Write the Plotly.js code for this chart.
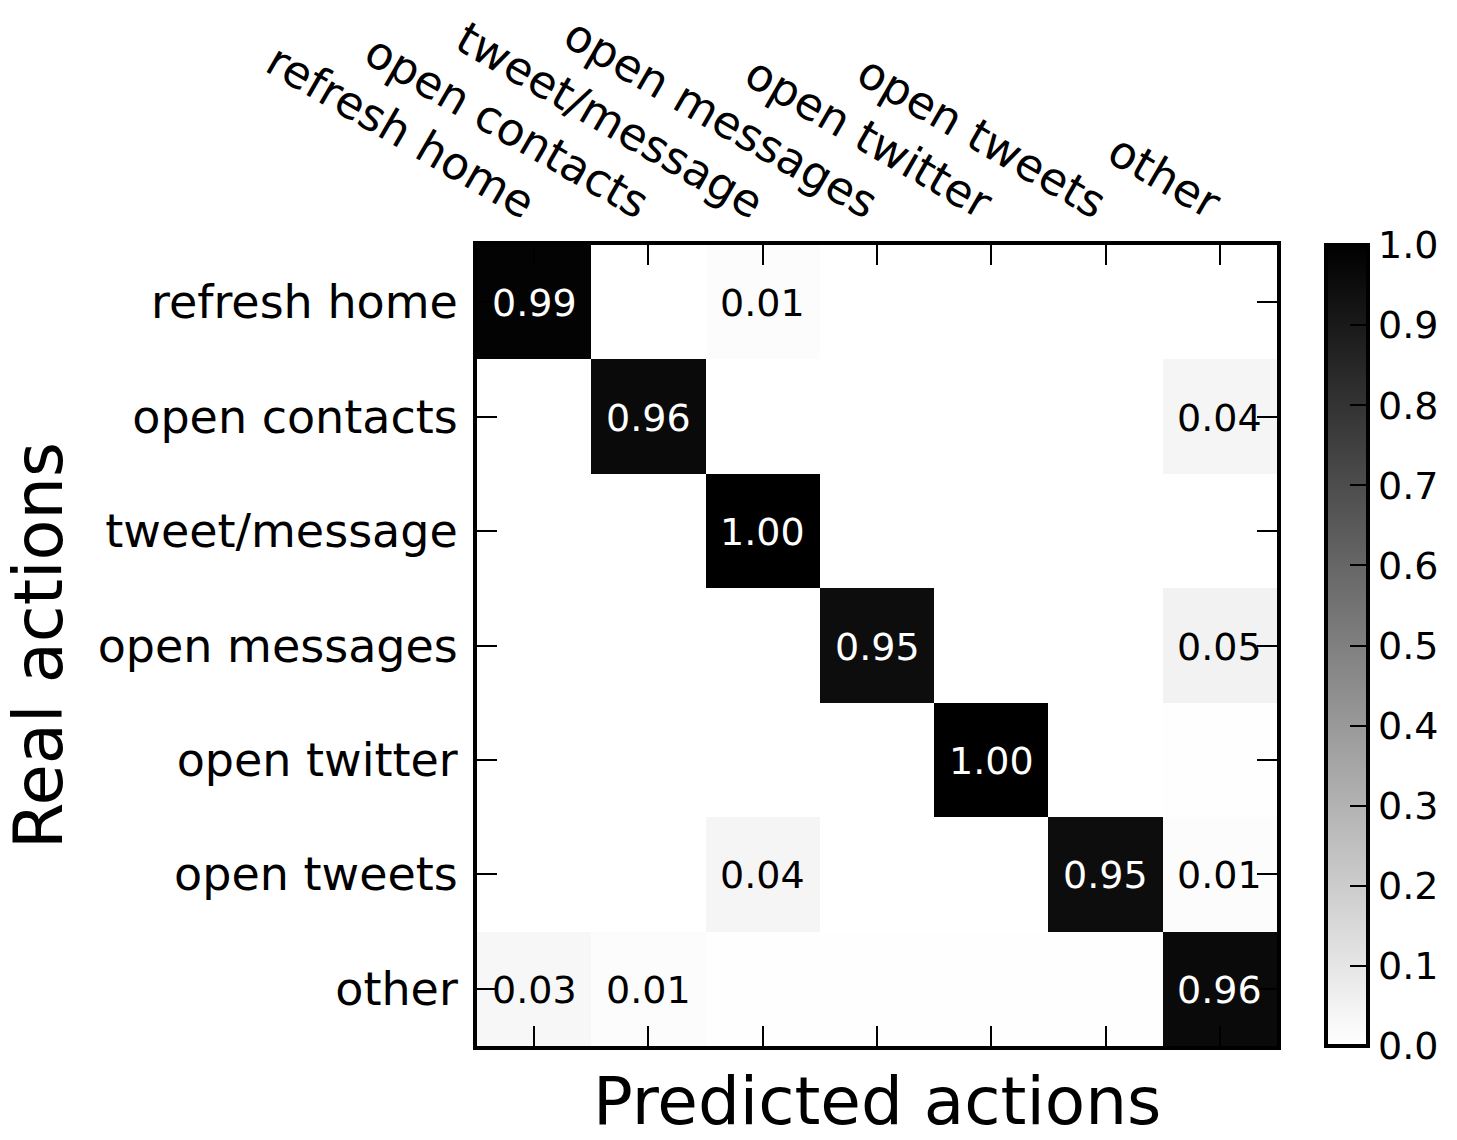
<!DOCTYPE html>
<html>
<head>
<meta charset="utf-8">
<script src="https://cdn.plot.ly/plotly-3.0.1.min.js"></script>
<style>html,body{margin:0;padding:0;background:#fff;}#chart{width:1457px;height:1140px;}</style>
</head>
<body>
<div id="chart"></div>
<script>
const predictedLabels = ["refresh home", "open contacts", "tweet/message", "open messages", "open twitter", "open tweets", "other"];
const realLabels = ["refresh home", "open contacts", "tweet/message", "open messages", "open twitter", "open tweets", "other"];
const rowRefreshHome = [0.99, 0, 0.01, 0, 0, 0, 0];
const rowOpenContacts = [0, 0.96, 0, 0, 0, 0, 0.04];
const rowTweetMessage = [0, 0, 1.00, 0, 0, 0, 0];
const rowOpenMessages = [0, 0, 0, 0.95, 0, 0, 0.05];
const rowOpenTwitter = [0, 0, 0, 0, 1.00, 0, 0.002];
const rowOpenTweets = [0, 0, 0.04, 0, 0, 0.95, 0.01];
const rowOther = [0.03, 0.01, 0.004, 0.004, 0.004, 0.004, 0.96];
const colorbarTicks = [0, 0.1, 0.2, 0.3, 0.4, 0.5, 0.6, 0.7, 0.8, 0.9, 1.0];

const z = [rowRefreshHome, rowOpenContacts, rowTweetMessage, rowOpenMessages, rowOpenTwitter, rowOpenTweets, rowOther];
const FONT = "DejaVu Sans";

// cell labels (only for values that round to at least 0.01)
const cellAnnotations = [];
z.forEach((row, i) => row.forEach((v, j) => {
  if (Math.round(v * 100) >= 1) {
    cellAnnotations.push({
      x: predictedLabels[j], y: realLabels[i], xref: "x", yref: "y",
      text: v.toFixed(2), showarrow: false, yshift: -1,
      font: {family: FONT, size: 38, color: v > 0.5 ? "#ffffff" : "#000000"}
    });
  }
}));

const heat = {
  type: "heatmap",
  x: predictedLabels,
  y: realLabels,
  z: z,
  zmin: 0, zmax: 1,
  colorscale: [[0, "#ffffff"], [1, "#000000"]],
  hoverinfo: "skip",
  colorbar: {
    x: 1.0612, xanchor: "left", xpad: 0,
    y: 0.5, yanchor: "middle", len: 1, ypad: 0,
    thickness: 42,
    outlinewidth: 4, outlinecolor: "#000",
    ticks: "inside", ticklen: 20, tickwidth: 2, tickcolor: "#000",
    tickvals: colorbarTicks, tickformat: ".1f", tickprefix: "\u2009",
    tickfont: {family: FONT, size: 38, color: "#000"}
  }
};

const layout = {
  width: 1457, height: 1140,
  margin: {l: 477, r: 180, t: 245, b: 94, pad: 0, autoexpand: false},
  paper_bgcolor: "#fff", plot_bgcolor: "#fff",
  font: {family: FONT, color: "#000"},
  showlegend: false,
  xaxis: {
    side: "top", type: "category",
    tickangle: 30,
    tickfont: {family: FONT, size: 45, color: "#000"},
    ticks: "inside", ticklen: 20, tickwidth: 2, tickcolor: "#000",
    showline: true, linewidth: 4, linecolor: "#000", mirror: "ticks",
    showgrid: false, zeroline: false, automargin: false,
    ticklabelstandoff: 0
  },
  yaxis: {
    type: "category", autorange: "reversed",
    tickfont: {family: FONT, size: 46, color: "#000"},
    ticks: "inside", ticklen: 20, tickwidth: 2, tickcolor: "#000",
    showline: true, linewidth: 4, linecolor: "#000", mirror: "ticks",
    showgrid: false, zeroline: false, automargin: false,
    ticklabelstandoff: 6,
    title: {text: "Real actions", font: {family: FONT, size: 67, color: "#000"}, standoff: 17}
  },
  annotations: cellAnnotations.concat([{
    text: "Predicted actions", xref: "paper", yref: "paper",
    x: 0.5, y: 0, yshift: -15, xanchor: "center", yanchor: "top",
    showarrow: false, font: {family: FONT, size: 66, color: "#000"}
  }])
};

Plotly.newPlot("chart", [heat], layout, {displayModeBar: false, staticPlot: true});
</script>
</body>
</html>
